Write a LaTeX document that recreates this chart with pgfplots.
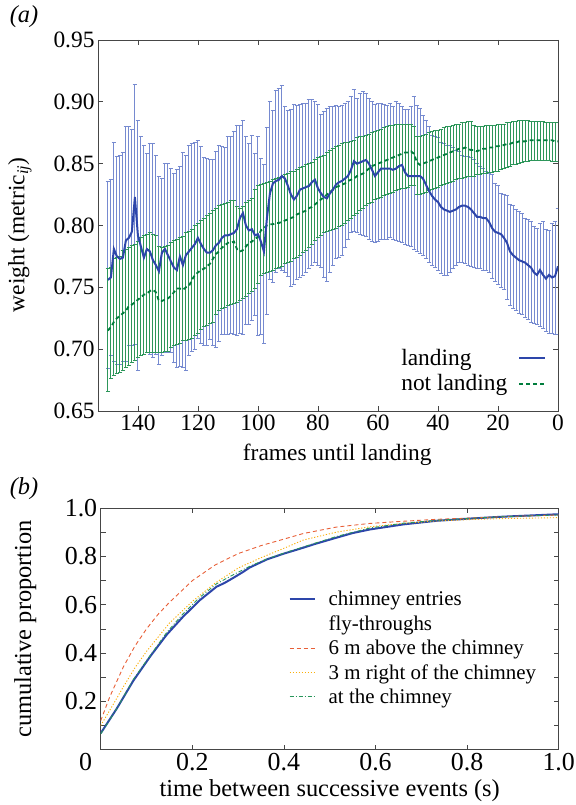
\documentclass[border=0pt]{standalone}
\usepackage{fontspec}
\setmainfont{Liberation Serif}
\usepackage{pgfplots}
\pgfplotsset{compat=1.18}
\usepackage{pgfplotstable}

\definecolor{lineblue}{RGB}{45,70,170}
\definecolor{barblue}{RGB}{118,138,208}
\definecolor{linegreen}{RGB}{0,125,60}
\definecolor{bargreen}{RGB}{45,150,90}
\definecolor{cred}{RGB}{232,95,55}
\definecolor{corange}{RGB}{250,175,10}
\definecolor{cgreen}{RGB}{40,150,90}
\definecolor{frame}{RGB}{70,70,70}

% f = frames until landing; m/u/l = mean, upper, lower; b = landing, g = not landing
\pgfplotstableread{
f mb ub lb mg ug lg
150 0.756 0.836 0.684 0.715 0.765 0.666
149 0.758 0.837 0.695 0.718 0.766 0.676
148 0.781 0.867 0.690 0.722 0.773 0.679
147 0.775 0.856 0.688 0.725 0.774 0.680
146 0.773 0.857 0.688 0.727 0.775 0.681
145 0.774 0.859 0.690 0.729 0.780 0.683
144 0.788 0.880 0.690 0.731 0.781 0.685
143 0.790 0.880 0.703 0.735 0.782 0.687
142 0.795 0.878 0.703 0.736 0.784 0.689
141 0.823 0.914 0.704 0.738 0.785 0.691
140 0.792 0.885 0.683 0.740 0.787 0.693
139 0.783 0.872 0.695 0.742 0.790 0.695
138 0.774 0.865 0.696 0.744 0.792 0.696
137 0.781 0.858 0.697 0.745 0.793 0.697
136 0.779 0.866 0.696 0.747 0.794 0.697
135 0.772 0.866 0.693 0.748 0.793 0.697
134 0.768 0.857 0.696 0.746 0.792 0.697
133 0.763 0.840 0.688 0.739 0.783 0.697
132 0.778 0.838 0.695 0.739 0.782 0.697
131 0.781 0.850 0.697 0.740 0.783 0.698
130 0.776 0.850 0.697 0.741 0.784 0.698
129 0.771 0.846 0.697 0.743 0.786 0.701
128 0.766 0.842 0.689 0.746 0.788 0.703
127 0.764 0.845 0.685 0.749 0.789 0.704
126 0.775 0.848 0.686 0.749 0.790 0.705
125 0.768 0.859 0.685 0.748 0.791 0.707
124 0.776 0.857 0.683 0.750 0.794 0.707
123 0.779 0.865 0.695 0.751 0.795 0.708
122 0.782 0.866 0.698 0.756 0.797 0.709
121 0.785 0.867 0.700 0.760 0.800 0.711
120 0.790 0.869 0.709 0.762 0.802 0.713
119 0.785 0.864 0.705 0.764 0.804 0.716
118 0.781 0.855 0.703 0.765 0.806 0.718
117 0.778 0.854 0.703 0.767 0.808 0.719
116 0.778 0.853 0.708 0.769 0.810 0.721
115 0.780 0.853 0.703 0.773 0.812 0.722
114 0.784 0.860 0.701 0.777 0.814 0.728
113 0.786 0.865 0.706 0.779 0.816 0.731
112 0.790 0.864 0.712 0.782 0.817 0.733
111 0.792 0.863 0.712 0.784 0.818 0.734
110 0.792 0.872 0.712 0.786 0.819 0.735
109 0.793 0.872 0.713 0.786 0.820 0.736
108 0.794 0.876 0.712 0.787 0.820 0.737
107 0.797 0.881 0.711 0.781 0.815 0.738
106 0.806 0.881 0.713 0.779 0.814 0.739
105 0.810 0.885 0.712 0.780 0.815 0.741
104 0.800 0.872 0.720 0.783 0.819 0.743
103 0.796 0.866 0.720 0.786 0.820 0.745
102 0.797 0.873 0.723 0.787 0.822 0.747
101 0.792 0.858 0.727 0.789 0.829 0.749
100 0.793 0.872 0.711 0.791 0.832 0.753
99 0.787 0.854 0.712 0.796 0.833 0.760
98 0.779 0.849 0.705 0.798 0.834 0.761
97 0.806 0.879 0.728 0.800 0.835 0.762
96 0.826 0.900 0.756 0.801 0.836 0.763
95 0.834 0.893 0.754 0.801 0.837 0.764
94 0.836 0.909 0.762 0.802 0.838 0.765
93 0.837 0.911 0.765 0.802 0.839 0.766
92 0.840 0.913 0.764 0.803 0.840 0.767
91 0.838 0.896 0.762 0.804 0.841 0.769
90 0.832 0.893 0.759 0.805 0.842 0.770
89 0.825 0.894 0.751 0.806 0.844 0.771
88 0.821 0.898 0.752 0.807 0.844 0.773
87 0.824 0.897 0.756 0.809 0.845 0.774
86 0.829 0.898 0.758 0.810 0.847 0.776
85 0.830 0.899 0.760 0.811 0.848 0.778
84 0.831 0.899 0.762 0.812 0.849 0.780
83 0.832 0.902 0.765 0.814 0.850 0.782
82 0.835 0.902 0.768 0.815 0.851 0.785
81 0.837 0.900 0.770 0.817 0.853 0.788
80 0.830 0.898 0.768 0.819 0.855 0.790
79 0.826 0.890 0.766 0.821 0.856 0.792
78 0.823 0.892 0.758 0.823 0.857 0.794
77 0.822 0.895 0.755 0.825 0.859 0.795
76 0.826 0.896 0.762 0.827 0.861 0.796
75 0.829 0.896 0.768 0.829 0.862 0.797
74 0.833 0.897 0.773 0.831 0.864 0.798
73 0.835 0.896 0.774 0.832 0.865 0.799
72 0.836 0.897 0.776 0.833 0.866 0.800
71 0.838 0.899 0.782 0.834 0.867 0.802
70 0.840 0.900 0.789 0.836 0.867 0.804
69 0.845 0.904 0.794 0.837 0.868 0.806
68 0.852 0.910 0.795 0.838 0.869 0.808
67 0.850 0.903 0.794 0.840 0.871 0.810
66 0.851 0.907 0.793 0.841 0.872 0.812
65 0.852 0.908 0.792 0.842 0.872 0.814
64 0.853 0.907 0.791 0.844 0.873 0.816
63 0.850 0.903 0.789 0.846 0.874 0.818
62 0.845 0.900 0.787 0.848 0.875 0.819
61 0.840 0.898 0.786 0.849 0.876 0.821
60 0.843 0.899 0.787 0.850 0.877 0.822
59 0.846 0.899 0.789 0.851 0.878 0.823
58 0.846 0.898 0.789 0.852 0.879 0.824
57 0.846 0.897 0.789 0.853 0.880 0.825
56 0.846 0.899 0.790 0.854 0.881 0.826
55 0.845 0.896 0.789 0.855 0.881 0.827
54 0.846 0.900 0.788 0.856 0.882 0.828
53 0.848 0.899 0.787 0.857 0.882 0.829
52 0.849 0.896 0.786 0.858 0.882 0.830
51 0.843 0.894 0.785 0.859 0.882 0.830
50 0.840 0.894 0.784 0.859 0.882 0.831
49 0.840 0.896 0.783 0.860 0.882 0.832
48 0.840 0.904 0.781 0.858 0.880 0.832
47 0.840 0.897 0.779 0.851 0.872 0.825
46 0.840 0.895 0.777 0.849 0.872 0.825
45 0.838 0.889 0.776 0.850 0.873 0.826
44 0.833 0.885 0.773 0.851 0.874 0.827
43 0.828 0.880 0.770 0.852 0.875 0.828
42 0.824 0.873 0.768 0.853 0.876 0.829
41 0.821 0.872 0.766 0.854 0.877 0.830
40 0.819 0.871 0.764 0.855 0.877 0.831
39 0.815 0.867 0.761 0.856 0.878 0.832
38 0.813 0.866 0.760 0.857 0.879 0.833
37 0.812 0.865 0.760 0.858 0.880 0.834
36 0.811 0.865 0.762 0.859 0.880 0.835
35 0.812 0.863 0.765 0.860 0.881 0.836
34 0.813 0.861 0.768 0.861 0.882 0.837
33 0.815 0.860 0.770 0.862 0.882 0.838
32 0.816 0.857 0.770 0.862 0.883 0.838
31 0.816 0.856 0.769 0.863 0.883 0.839
30 0.815 0.856 0.768 0.862 0.884 0.840
29 0.813 0.855 0.767 0.861 0.884 0.840
28 0.810 0.853 0.766 0.861 0.881 0.840
27 0.807 0.850 0.765 0.860 0.880 0.841
26 0.807 0.848 0.765 0.861 0.880 0.841
25 0.806 0.846 0.764 0.862 0.880 0.842
24 0.806 0.844 0.764 0.862 0.881 0.842
23 0.803 0.842 0.762 0.863 0.881 0.843
22 0.798 0.841 0.757 0.863 0.881 0.843
21 0.795 0.834 0.755 0.864 0.881 0.844
20 0.794 0.832 0.752 0.864 0.882 0.844
19 0.793 0.826 0.750 0.865 0.882 0.845
18 0.790 0.825 0.748 0.865 0.882 0.846
17 0.786 0.824 0.740 0.866 0.883 0.847
16 0.779 0.817 0.735 0.866 0.883 0.848
15 0.776 0.816 0.733 0.867 0.884 0.849
14 0.774 0.813 0.731 0.867 0.884 0.849
13 0.772 0.811 0.729 0.868 0.885 0.850
12 0.771 0.810 0.728 0.868 0.885 0.851
11 0.770 0.806 0.726 0.868 0.885 0.852
10 0.768 0.805 0.724 0.869 0.885 0.852
9 0.766 0.803 0.722 0.869 0.884 0.853
8 0.762 0.799 0.721 0.869 0.884 0.853
7 0.760 0.798 0.720 0.869 0.884 0.853
6 0.764 0.802 0.718 0.869 0.884 0.853
5 0.760 0.803 0.717 0.869 0.884 0.853
4 0.757 0.797 0.714 0.869 0.883 0.853
3 0.760 0.796 0.713 0.869 0.883 0.853
2 0.758 0.802 0.713 0.869 0.883 0.852
1 0.759 0.803 0.712 0.868 0.883 0.852
0 0.767 0.814 0.712 0.868 0.883 0.852
}\frames

\newcommand\afont{\fontsize{23.5}{26}\selectfont}
\newcommand\btickfont{\fontsize{26}{28}\selectfont}
\newcommand\blabfont{\fontsize{24.5}{27}\selectfont}

\pgfplotsset{
  panel/.style={
    scale only axis,
    anchor=south west,
    axis line style={frame, line width=0.8bp},
    tick style={frame, line width=0.8bp},
    tick align=inside,
    major tick length=5bp,
    minor tick length=5bp,
    /pgf/number format/assume math mode=true,
    legend style={draw=none, fill=none, inner sep=0pt},
    legend cell align=left,
  },
  ebars/.style={forget plot, draw=none, mark=none,
    error bars/.cd, y dir=both, y explicit,
    error bar style={draw=#1, line width=0.9bp},
    error mark options={rotate=90, draw=#1, line width=0.9bp, mark size=2.3bp}},
}

\begin{document}
\begin{tikzpicture}
\useasboundingbox (0,0) rectangle (576bp,805bp);

\node[font=\blabfont] at (24bp,788bp) {\textit{(a)}};
\node[font=\blabfont] at (24bp,316bp) {\textit{(b)}};

\begin{axis}[panel,
  at={(98bp,394bp)}, width=460bp, height=371bp,
  tick label style={font=\afont},
  label style={font=\afont},
  x dir=reverse,
  xmin=0, xmax=153.3, ymin=0.65, ymax=0.95,
  xtick={0,20,40,60,80,100,120,140},
  ytick={0.65,0.70,0.75,0.80,0.85,0.90,0.95},
  yticklabel style={/pgf/number format/.cd, fixed, fixed zerofill, precision=2},
  xlabel={frames until landing},
  ylabel={weight (metric\textsubscript{\textit{ij}})},
  xlabel style={at={(axis description cs:0.52,-0.119)}, anchor=center},
  ylabel style={at={(axis description cs:-0.170,0.475)}, anchor=center},
  legend plot pos=right,
  legend style={at={(axis description cs:0.975,0.044)}, anchor=south east,
    row sep=4bp, font=\afont,
    /tikz/column 1/.style={column sep=9bp}},
  legend image code/.code={\draw[#1] (0bp,0bp) -- (26bp,0bp);},
]
\addlegendimage{lineblue, line width=2bp}
\addlegendentry{landing}
\addlegendimage{linegreen, line width=1.8bp, dash pattern=on 4bp off 3bp}
\addlegendentry{not landing}

\addplot[ebars=barblue]
  table[x=f, y=mb, y error plus expr=\thisrow{ub}-\thisrow{mb},
        y error minus expr=\thisrow{mb}-\thisrow{lb}] {\frames};
\addplot[ebars=bargreen]
  table[x=f, y=mg, y error plus expr=\thisrow{ug}-\thisrow{mg},
        y error minus expr=\thisrow{mg}-\thisrow{lg}] {\frames};
\addplot[forget plot, mark=none, linegreen, line width=1.8bp, dash pattern=on 4bp off 3bp]
  table[x=f, y=mg] {\frames};
\addplot[forget plot, mark=none, lineblue, line width=2bp] table[x=f, y=mb] {\frames};
\end{axis}

\begin{axis}[panel,
  at={(100.7bp,55.3bp)}, width=458bp, height=241.5bp,
  tick label style={font=\btickfont},
  label style={font=\blabfont},
  xmin=0, xmax=1, ymin=0, ymax=1,
  xtick={0,0.2,0.4,0.6,0.8,1},
  xticklabels={\makebox[0pt][r]{0\hspace{8.5bp}},0.2,0.4,0.6,0.8,1.0},
  ytick={0,0.2,0.4,0.6,0.8,1},
  yticklabels={,0.2,0.4,0.6,0.8,1.0},
  minor ytick={0.1,0.3,0.5,0.7,0.9},
  xlabel={time between successive events (s)},
  ylabel={cumulative proportion},
  xlabel style={at={(axis description cs:0.50,-0.168)}, anchor=center},
  ylabel style={at={(axis description cs:-0.165,0.5)}, anchor=center},
  legend style={at={(axis cs:0.41,0.665)}, anchor=north west,
    row sep=4.3bp, font=\fontsize{21}{23}\selectfont,
    /tikz/column 1/.style={column sep=11bp}},
  legend image code/.code={\draw[#1] (0bp,0bp) -- (25bp,0bp);},
]
\addplot[mark=none, lineblue, line width=2bp] coordinates {
  (0.00,0.068) (0.035,0.170) (0.071,0.285) (0.108,0.386) (0.144,0.476)
  (0.180,0.551) (0.217,0.620) (0.253,0.675) (0.270,0.690) (0.290,0.712)
  (0.310,0.735) (0.326,0.755) (0.363,0.788) (0.400,0.812) (0.435,0.832)
  (0.468,0.852) (0.515,0.878) (0.550,0.897) (0.588,0.912) (0.661,0.933)
  (0.734,0.948) (0.806,0.957) (0.879,0.965) (0.940,0.970) (1.000,0.975)};
\addlegendentry{chimney entries}
\addlegendimage{empty legend}
\addlegendentry{fly-throughs}
\addplot[mark=none, cred, line width=0.9bp, dash pattern=on 4bp off 3bp] coordinates {
  (0.00,0.120) (0.020,0.220) (0.050,0.345) (0.075,0.430) (0.100,0.500)
  (0.125,0.560) (0.150,0.610) (0.200,0.700) (0.250,0.765) (0.300,0.812)
  (0.350,0.845) (0.400,0.872) (0.442,0.895) (0.515,0.922) (0.588,0.937)
  (0.661,0.946) (0.734,0.954) (0.806,0.959) (0.879,0.965) (1.000,0.972)};
\addlegendentry{6 m above the chimney}
\addplot[mark=none, corange, line width=0.9bp, dash pattern=on 1.2bp off 1.8bp] coordinates {
  (0.00,0.100) (0.025,0.180) (0.050,0.262) (0.075,0.340) (0.100,0.407)
  (0.150,0.524) (0.200,0.614) (0.250,0.690) (0.300,0.752) (0.350,0.795)
  (0.400,0.834) (0.442,0.868) (0.515,0.901) (0.588,0.923) (0.661,0.937)
  (0.734,0.947) (0.806,0.953) (0.879,0.957) (1.000,0.961)};
\addlegendentry{3 m right of the chimney}
\addplot[mark=none, cgreen, line width=0.9bp, dash pattern=on 4bp off 2bp on 1bp off 2bp] coordinates {
  (0.00,0.065) (0.035,0.170) (0.071,0.290) (0.108,0.390) (0.144,0.485)
  (0.180,0.563) (0.217,0.632) (0.253,0.687) (0.290,0.725) (0.326,0.760)
  (0.363,0.790) (0.400,0.814) (0.435,0.835) (0.468,0.855) (0.515,0.883)
  (0.588,0.918) (0.661,0.938) (0.734,0.950) (0.806,0.958) (0.879,0.965)
  (1.000,0.972)};
\addlegendentry{at the chimney}
\end{axis}
\end{tikzpicture}
\end{document}
